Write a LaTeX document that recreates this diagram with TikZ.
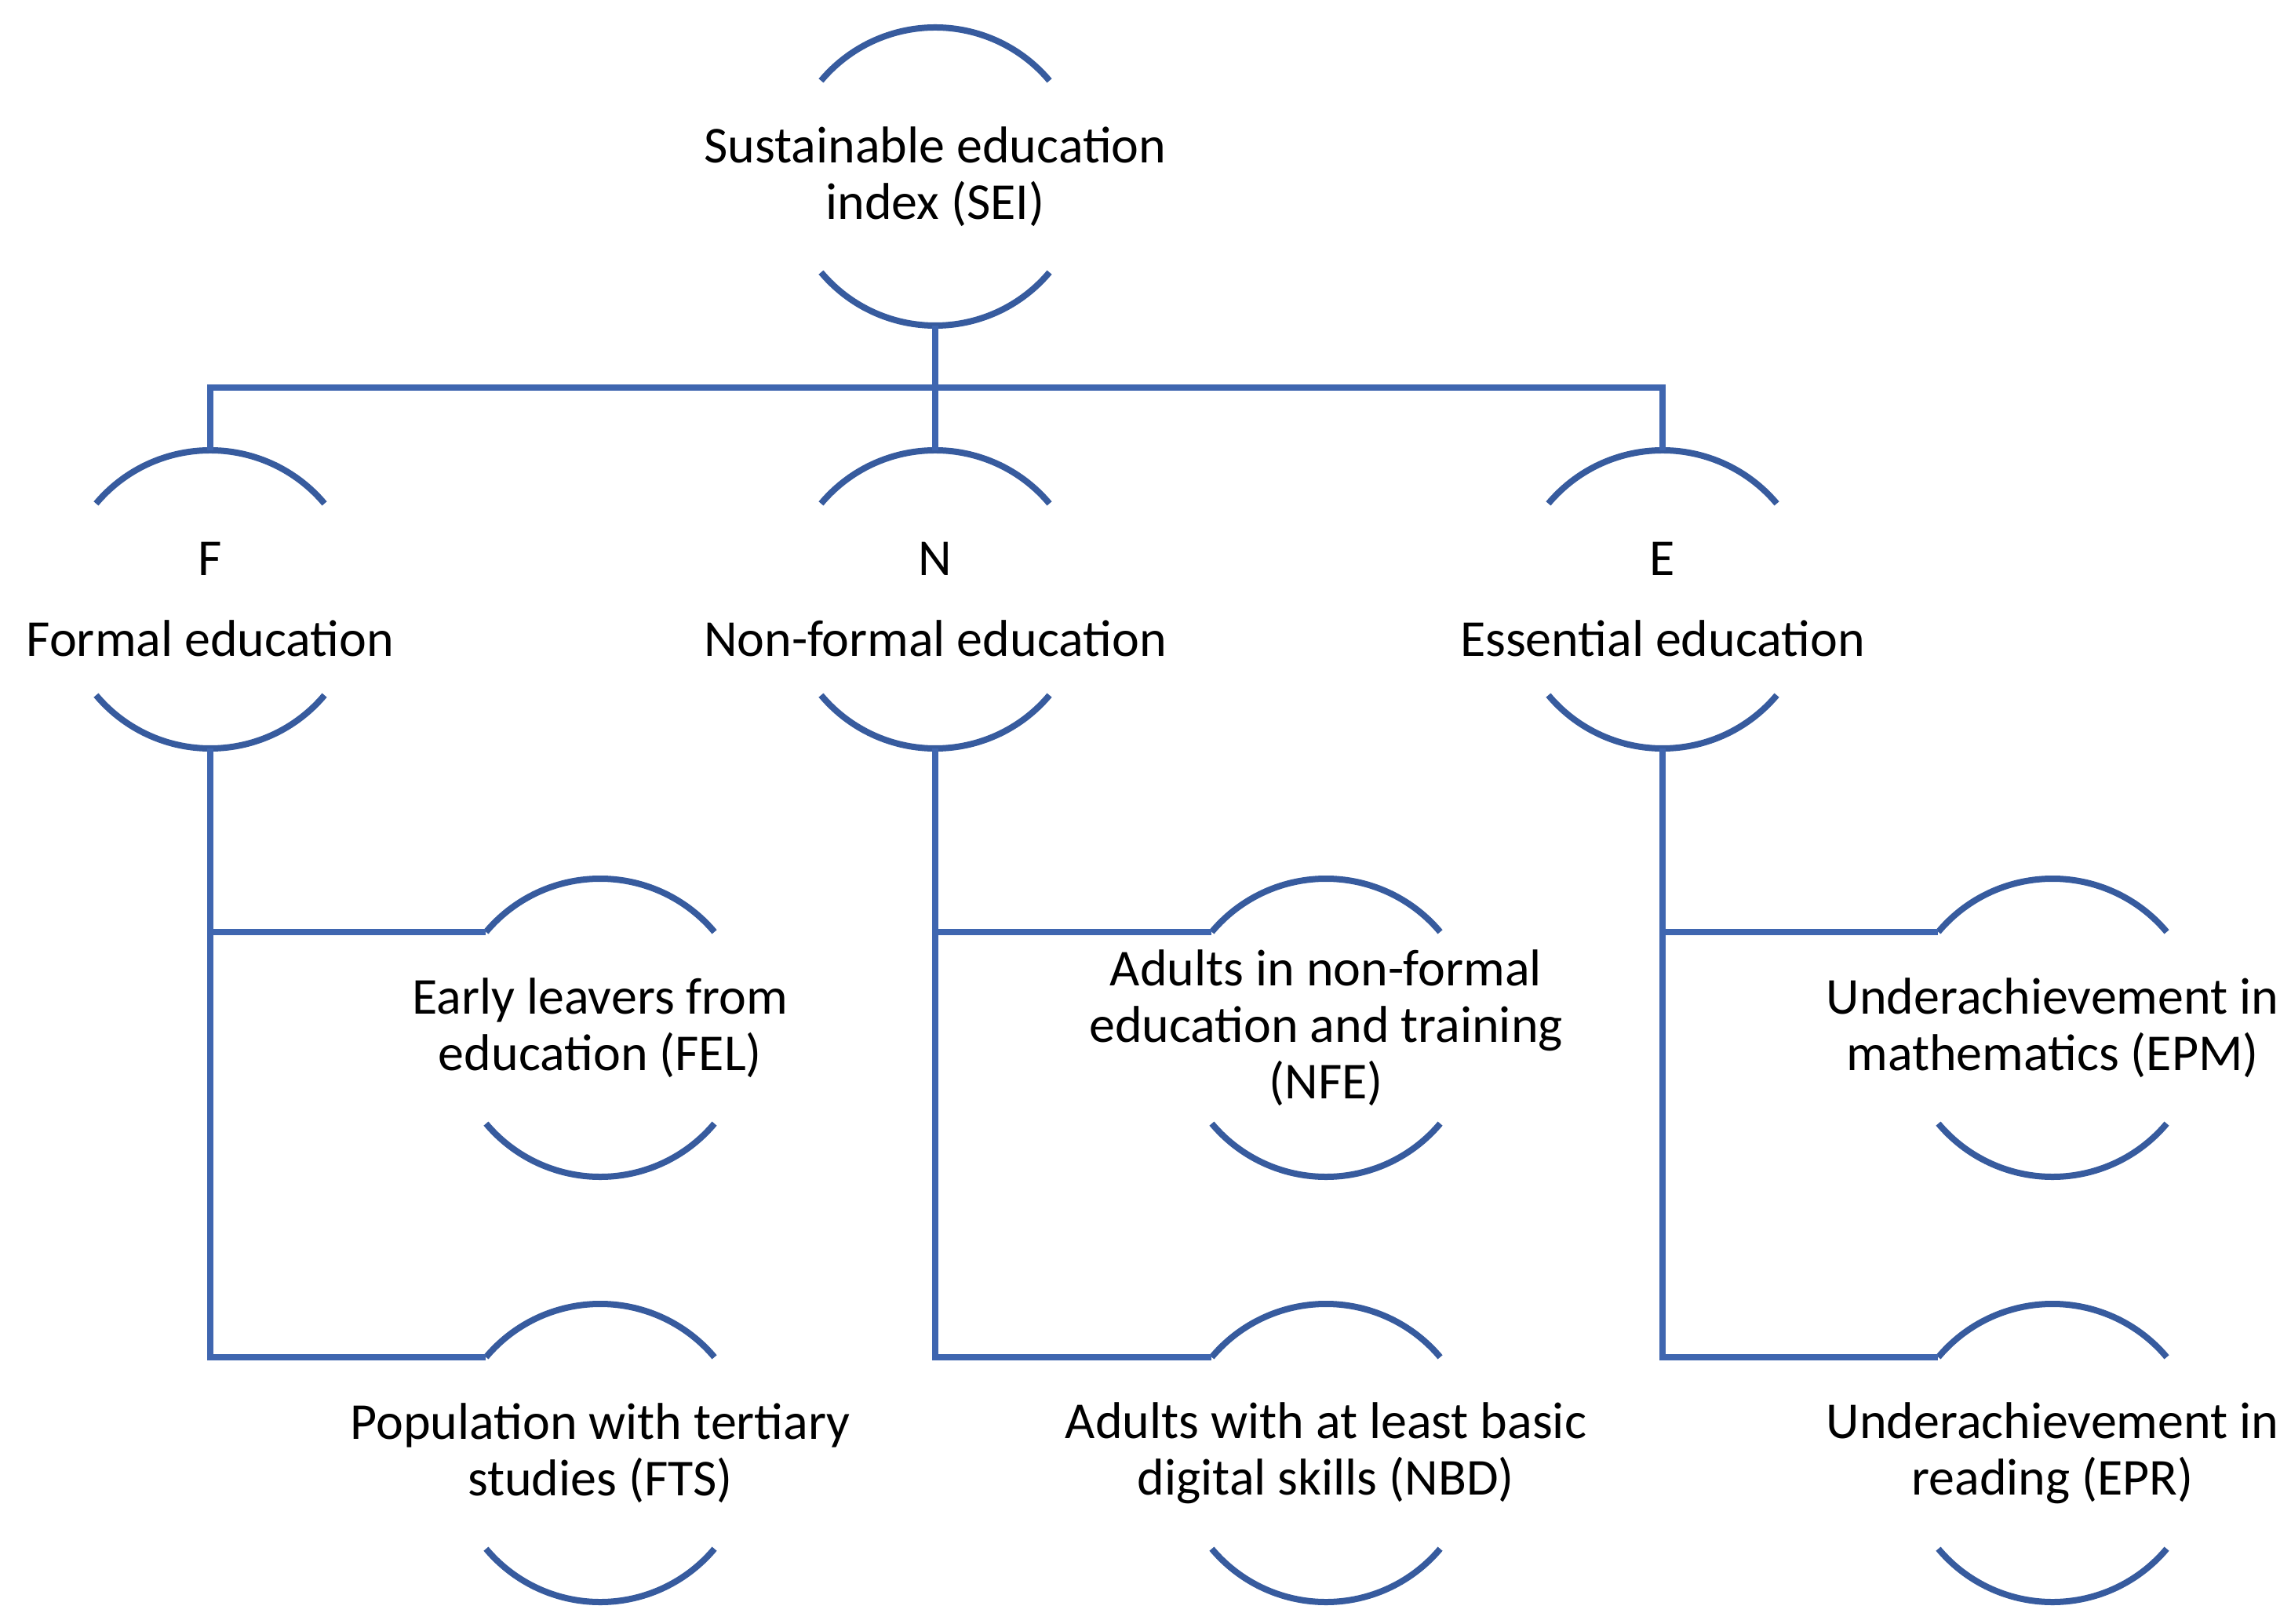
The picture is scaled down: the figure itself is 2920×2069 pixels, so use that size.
\documentclass[tikz,border=0pt]{standalone}
\usepackage{fontspec}
\setmainfont{Carlito}
\definecolor{arcblue}{HTML}{375B9E}
\definecolor{lineblue}{HTML}{3F66B0}
\begin{document}
\begin{tikzpicture}[x=0.25pt,y=0.25pt,
  ring/.style={circle,draw=none,minimum size=95pt,inner sep=0pt,outer sep=0pt},
  lbl/.style={align=center,inner sep=0pt,font=\fontsize{16.5pt}{18pt}\selectfont},
  rim/.style={draw=arcblue,line width=2pt},
  conn/.style={draw=lineblue,line width=2pt}]
\useasboundingbox (0,0) rectangle (2920,2069);
% rings
\node[ring] (sei) at (1192,1844) {};
\node[ring] (F) at (268,1305) {};
\node[ring] (N) at (1192,1305) {};
\node[ring] (E) at (2119,1305) {};
\node[ring] (fel) at (765,759) {};
\node[ring] (fts) at (765,217) {};
\node[ring] (nfe) at (1690,759) {};
\node[ring] (nbd) at (1690,217) {};
\node[ring] (epm) at (2616,759) {};
\node[ring] (epr) at (2616,217) {};
% arcs
\foreach \n in {sei,F,N,E,fel,fts,nfe,nbd,epm,epr}{
  \draw[rim] (\n.40) arc[start angle=40,end angle=140,radius=190];
  \draw[rim] (\n.220) arc[start angle=220,end angle=320,radius=190];
}
% labels
\node[lbl] (tsei) at (sei) {Sustainable education\\index (SEI)};
\node[lbl] (tF) at (F) {F\\[7.75pt]Formal education};
\node[lbl] (tN) at (N) {N\\[7.75pt]Non-formal education};
\node[lbl] (tE) at (E) {E\\[7.75pt]Essential education};
\node[lbl] (tfel) at (fel) {Early leavers from\\education (FEL)};
\node[lbl] (tfts) at (fts) {Population with tertiary\\studies (FTS)};
\node[lbl] (tnfe) at (nfe) {Adults in non-formal\\education and training\\(NFE)};
\node[lbl] (tnbd) at (nbd) {Adults with at least basic\\digital skills (NBD)};
\node[lbl] (tepm) at (epm) {Underachievement in\\mathematics (EPM)};
\node[lbl] (tepr) at (epr) {Underachievement in\\reading (EPR)};
% connectors
\coordinate (bus) at (0,1575);
\draw[conn] (sei.south) -- (N.north);
\draw[conn] (F.north) -- (F.north |- bus) -- (E.north |- bus) -- (E.north);
\draw[conn] (F.south) |- (fel.140);
\draw[conn] (F.south) |- (fts.140);
\draw[conn] (N.south) |- (nfe.140);
\draw[conn] (N.south) |- (nbd.140);
\draw[conn] (E.south) |- (epm.140);
\draw[conn] (E.south) |- (epr.140);
\end{tikzpicture}
\end{document}
